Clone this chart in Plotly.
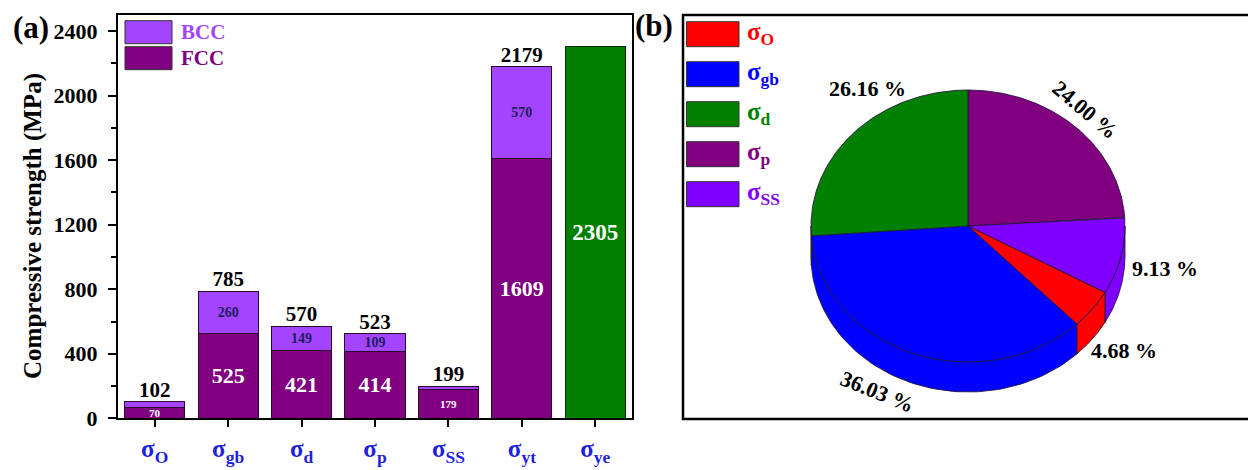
import numpy as np
import plotly.graph_objects as go

W, H = 1248, 470
FONT = "Liberation Serif"

# ---- panel (a) data ----
categories = ["σ<sub>O</sub>", "σ<sub>gb</sub>", "σ<sub>d</sub>", "σ<sub>p</sub>",
              "σ<sub>SS</sub>", "σ<sub>yt</sub>", "σ<sub>ye</sub>"]
fcc_values = [70, 525, 421, 414, 179, 1609, None]
bcc_values = [32, 260, 149, 109, 20, 570, None]
total_values = [102, 785, 570, 523, 199, 2179]
ye_values = [None, None, None, None, None, None, 2305]

# ---- panel (b) data ----
pie_names = ["σ<sub>O</sub>", "σ<sub>gb</sub>", "σ<sub>d</sub>", "σ<sub>p</sub>", "σ<sub>SS</sub>"]
pie_percent = [4.68, 36.03, 26.16, 24.00, 9.13]
pie_colors = ["#ff0000", "#0000ff", "#008000", "#800080", "#8000ff"]
clockwise_order = [3, 4, 0, 1, 2]   # from 12 o'clock: p, SS, O, gb, d

FCC_COLOR = "#800080"
BCC_COLOR = "#a345ff"
YE_COLOR = "#008000"
TICK_BLUE = "#1f1fe0"


def px(x):
    return x / W


def py(y):
    return 1 - y / H


xs = list(range(len(categories)))
fig = go.Figure()

fcc_text = ["" if v is None else str(v) for v in fcc_values]
fcc_size = [22 if (v or 0) >= 400 else 11 for v in fcc_values]
fig.add_trace(go.Bar(
    x=xs, y=fcc_values, name="FCC", marker=dict(color=FCC_COLOR, line=dict(color="#2a0a2a", width=1)),
    text=fcc_text, textposition="inside", insidetextanchor="middle", constraintext="none", textangle=0,
    textfont=dict(family=FONT, size=fcc_size, color="white", weight="bold"),
    width=0.82, showlegend=False, hoverinfo="skip"))

bcc_text = [str(v) if (v or 0) >= 100 else "" for v in bcc_values]
fig.add_trace(go.Bar(
    x=xs, y=bcc_values, name="BCC", marker=dict(color=BCC_COLOR, line=dict(color="#2a0a2a", width=1)),
    text=bcc_text, textposition="inside", insidetextanchor="middle", constraintext="none", textangle=0,
    textfont=dict(family=FONT, size=14, color="#1c1c5c", weight="bold"),
    width=0.82, showlegend=False, hoverinfo="skip"))

fig.add_trace(go.Bar(
    x=xs, y=ye_values, name="ye", marker=dict(color=YE_COLOR, line=dict(color="#0a2a0a", width=1)),
    text=["" if v is None else str(v) for v in ye_values], textposition="inside",
    insidetextanchor="middle", constraintext="none", textangle=0,
    textfont=dict(family=FONT, size=23, color="white", weight="bold"),
    width=0.82, showlegend=False, hoverinfo="skip"))

# totals above the stacked bars
fig.add_trace(go.Scatter(
    x=xs[:len(total_values)], y=total_values, mode="text", text=[str(v) for v in total_values],
    textposition="top center", cliponaxis=False,
    textfont=dict(family=FONT, size=21, color="black", weight="bold"),
    showlegend=False, hoverinfo="skip"))

# ---- 3D-looking pie on a pixel-scaled axis pair ----
cx, cy, rx, ry, depth = 968, 226, 157, 136, 30
edge = "rgba(30,20,60,0.85)"

spans = []
start = 90.0
for i in clockwise_order:
    sweep = 360.0 * pie_percent[i] / 100.0
    spans.append((i, start - sweep, start))
    start -= sweep

# side walls on the front half
for i, lo, hi in spans:
    a, b = max(lo, -180.0), min(hi, 0.0)
    if b <= a:
        continue
    t = np.radians(np.linspace(b, a, 80))
    xt = cx + rx * np.cos(t)
    yt = cy - ry * np.sin(t)
    xw = np.concatenate([xt, xt[::-1], xt[:1]])
    yw = np.concatenate([yt, yt[::-1] + depth, yt[:1]])
    fig.add_trace(go.Scatter(x=xw, y=yw, xaxis="x2", yaxis="y2", mode="lines", fill="toself",
                             fillcolor=pie_colors[i], line=dict(color=edge, width=1),
                             showlegend=False, hoverinfo="skip"))

# top faces
for i, lo, hi in spans:
    t = np.radians(np.linspace(hi, lo, 160))
    xt = np.concatenate([[cx], cx + rx * np.cos(t), [cx]])
    yt = np.concatenate([[cy], cy - ry * np.sin(t), [cy]])
    fig.add_trace(go.Scatter(x=xt, y=yt, xaxis="x2", yaxis="y2", mode="lines", fill="toself",
                             fillcolor=pie_colors[i], line=dict(color=edge, width=1),
                             showlegend=False, hoverinfo="skip"))

annotations = []

# percentage labels
label_spots = {2: (867, 88, 0), 3: (1085, 109, 40), 4: (1165, 268, 0), 0: (1124, 350, 0), 1: (877, 391, 22)}
for i, (lx, ly, ang) in label_spots.items():
    annotations.append(dict(x=lx, y=ly, xref="x2", yref="y2", text=f"<b>{pie_percent[i]:.2f} %</b>",
                            showarrow=False, textangle=ang,
                            font=dict(family=FONT, size=22, color="black")))

shapes = []

# legend of panel (b)
for k in range(len(pie_names)):
    top = 21.7 + 40 * k
    shapes.append(dict(type="rect", xref="paper", yref="paper", x0=px(686.5), x1=px(739),
                       y0=py(top + 25), y1=py(top), fillcolor=pie_colors[k],
                       line=dict(color="#333333", width=1)))
    annotations.append(dict(x=px(745), y=py(top + 12), xref="paper", yref="paper", xanchor="left",
                            yanchor="middle", text=f"<b>{pie_names[k]}</b>", showarrow=False,
                            font=dict(family=FONT, size=25, color=pie_colors[k])))

# legend of panel (a)
for k, (name, col) in enumerate([("BCC", BCC_COLOR), ("FCC", FCC_COLOR)]):
    top = 20.7 + 26 * k
    shapes.append(dict(type="rect", xref="paper", yref="paper", x0=px(125), x1=px(172),
                       y0=py(top + 23), y1=py(top), fillcolor=col,
                       line=dict(color="#333333", width=1)))
    annotations.append(dict(x=px(179), y=py(top + 11.5), xref="paper", yref="paper", xanchor="left",
                            yanchor="middle", text=f"<b>{name}</b>", showarrow=False,
                            font=dict(family=FONT, size=21, color=col)))

# frame of panel (b)
shapes.append(dict(type="rect", xref="paper", yref="paper", x0=px(683), x1=px(1262),
                   y0=py(419), y1=py(15), line=dict(color="black", width=2.5)))

# panel tags and y title
annotations.append(dict(x=px(11), y=py(28), xref="paper", yref="paper", xanchor="left", yanchor="middle",
                        text="<b>(a)</b>", showarrow=False, font=dict(family=FONT, size=31, color="black")))
annotations.append(dict(x=px(633), y=py(25), xref="paper", yref="paper", xanchor="left", yanchor="middle",
                        text="<b>(b)</b>", showarrow=False, font=dict(family=FONT, size=31, color="black")))
annotations.append(dict(x=px(33), y=py(226), xref="paper", yref="paper", xanchor="center", yanchor="middle",
                        text="<b>Compressive strength (MPa)</b>", textangle=-90, showarrow=False,
                        font=dict(family=FONT, size=25, color="black")))

fig.update_layout(
    width=W, height=H, margin=dict(l=0, r=0, t=0, b=0, autoexpand=False),
    paper_bgcolor="white", plot_bgcolor="white",
    barmode="stack", bargap=0.18,
    showlegend=False,
    xaxis=dict(domain=[px(118), px(632)], range=[-0.5, 6.5], tickvals=xs, ticktext=categories,
               ticks="outside", ticklen=7, tickwidth=2, tickcolor="black",
               showline=True, linewidth=2, linecolor="black", mirror=True,
               showgrid=False, zeroline=False, ticklabelstandoff=0, automargin=False,
               tickfont=dict(family=FONT, size=25, color=TICK_BLUE, weight="bold"), anchor="y"),
    yaxis=dict(domain=[py(418.3), py(15)], range=[0, 2500], tick0=0, dtick=400,
               ticks="outside", ticklen=8, tickwidth=2, tickcolor="black",
               minor=dict(dtick=200, ticks="outside", ticklen=5, tickwidth=2, tickcolor="black", showgrid=False),
               showline=True, linewidth=2, linecolor="black", mirror=True,
               showgrid=False, zeroline=False, ticklabelstandoff=6, automargin=False,
               tickfont=dict(family=FONT, size=22, color="black", weight="bold"), anchor="x"),
    xaxis2=dict(domain=[px(683), 1], range=[683, 1248], visible=False, anchor="y2",
                fixedrange=True, automargin=False),
    yaxis2=dict(domain=[py(419), py(15)], range=[419, 15], visible=False, anchor="x2",
                fixedrange=True, automargin=False),
    shapes=shapes, annotations=annotations,
)

fig.write_html("out.html")
